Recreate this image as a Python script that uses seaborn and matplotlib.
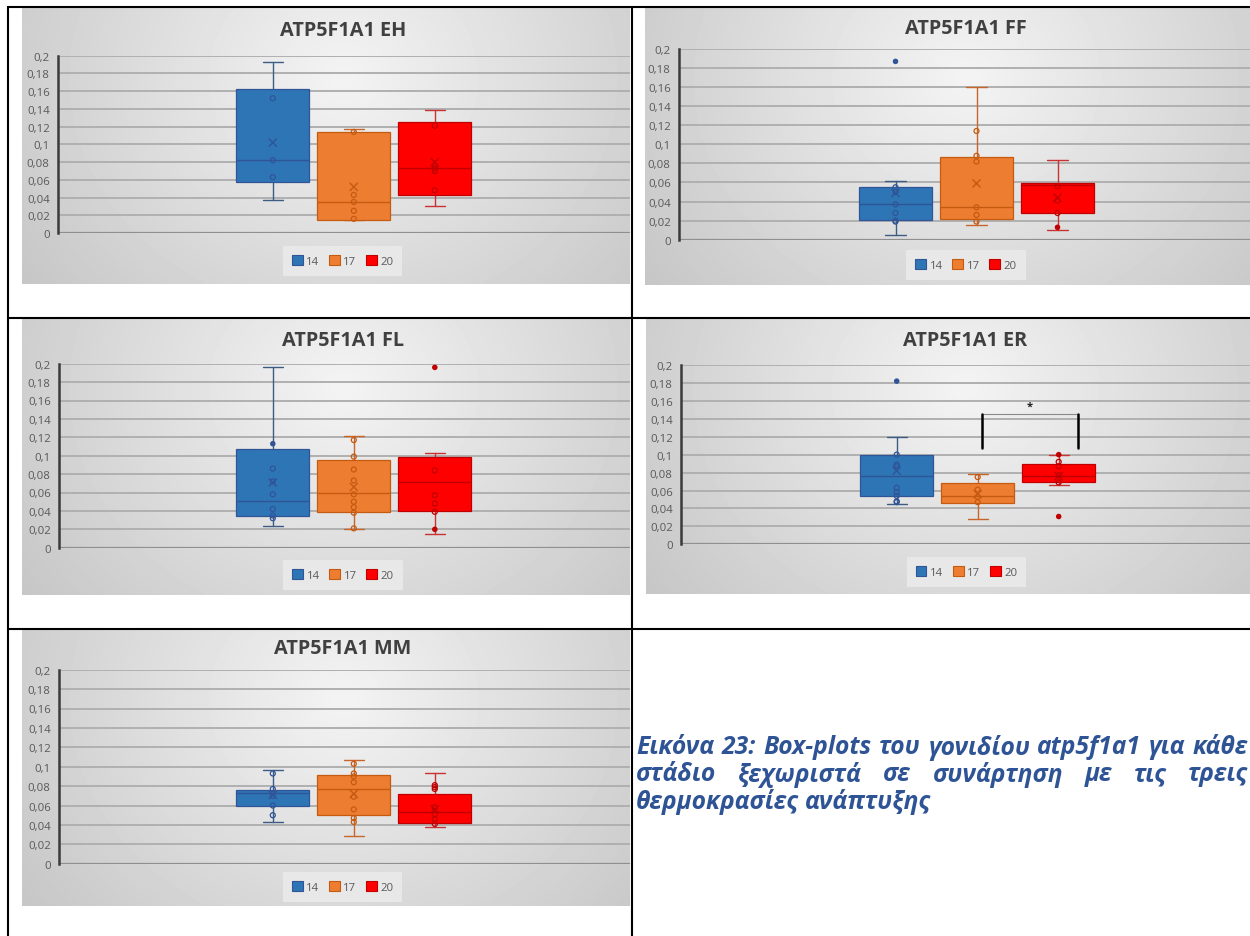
import numpy as np
import pandas as pd
import matplotlib
matplotlib.use("Agg")
import matplotlib.pyplot as plt
import seaborn as sns
from matplotlib.patches import Patch

# ---------------------------------------------------------------- data
GROUPS = ["14", "17", "20"]
Y_TICKS = [0, 0.02, 0.04, 0.06, 0.08, 0.10, 0.12, 0.14, 0.16, 0.18, 0.20]
Y_TICK_LABELS = ["0", "0,02", "0,04", "0,06", "0,08", "0,1", "0,12", "0,14",
                 "0,16", "0,18", "0,2"]

# EH
EH_LOW = [0.037, 0.015, 0.030]
EH_Q1 = [0.057, 0.015, 0.043]
EH_MED = [0.082, 0.035, 0.073]
EH_Q3 = [0.162, 0.114, 0.125]
EH_HIGH = [0.193, 0.117, 0.139]
EH_MEAN = [0.102, 0.052, 0.080]
EH_PTS = [[0.152, 0.082, 0.063],
          [0.114, 0.043, 0.035, 0.025, 0.016],
          [0.121, 0.076, 0.073, 0.070, 0.048]]
EH_OUT = [[], [], []]

# FF
FF_LOW = [0.005, 0.015, 0.010]
FF_Q1 = [0.021, 0.022, 0.028]
FF_MED = [0.037, 0.034, 0.057]
FF_Q3 = [0.055, 0.087, 0.059]
FF_HIGH = [0.062, 0.160, 0.084]
FF_MEAN = [0.049, 0.059, 0.044]
FF_PTS = [[0.055, 0.050, 0.037, 0.028, 0.020, 0.019],
          [0.114, 0.088, 0.082, 0.034, 0.026, 0.019],
          [0.056, 0.041, 0.028]]
FF_OUT = [[0.187], [], [0.013]]

# FL
FL_LOW = [0.024, 0.020, 0.015]
FL_Q1 = [0.035, 0.039, 0.040]
FL_MED = [0.051, 0.059, 0.071]
FL_Q3 = [0.107, 0.095, 0.099]
FL_HIGH = [0.196, 0.121, 0.103]
FL_MEAN = [0.071, 0.066, np.nan]
FL_PTS = [[0.086, 0.072, 0.058, 0.042, 0.035, 0.032],
          [0.117, 0.099, 0.085, 0.073, 0.058, 0.050, 0.044, 0.038, 0.021],
          [0.084, 0.057, 0.048, 0.039]]
FL_OUT = [[0.113], [], [0.196, 0.020]]

# ER
ER_LOW = [0.045, 0.028, 0.066]
ER_Q1 = [0.054, 0.046, 0.070]
ER_MED = [0.076, 0.054, 0.076]
ER_Q3 = [0.100, 0.068, 0.090]
ER_HIGH = [0.120, 0.078, 0.100]
ER_MEAN = [0.082, 0.056, 0.076]
ER_PTS = [[0.100, 0.089, 0.087, 0.063, 0.058, 0.054, 0.048, 0.047],
          [0.075, 0.061, 0.053, 0.047],
          [0.092, 0.087, 0.077, 0.069]]
ER_OUT = [[0.182], [], [0.100, 0.031]]
ER_SIG_TOP = 0.1457
ER_SIG_BOTTOM = 0.1074
ER_SIG_LABEL = "*"

# MM
MM_LOW = [0.043, 0.029, 0.038]
MM_Q1 = [0.060, 0.050, 0.042]
MM_MED = [0.073, 0.077, 0.053]
MM_Q3 = [0.076, 0.091, 0.072]
MM_HIGH = [0.097, 0.107, 0.093]
MM_MEAN = [0.071, 0.072, 0.056]
MM_PTS = [[0.093, 0.077, 0.070, 0.060, 0.050],
          [0.103, 0.093, 0.090, 0.084, 0.069, 0.056, 0.047, 0.043],
          [0.081, 0.079, 0.077, 0.058, 0.051, 0.046, 0.041]]
MM_OUT = [[], [], []]

CAPTION = ["Εικόνα 23: Box-plots του γονιδίου atp5f1a1 για κάθε",
           "στάδιο ξεχωριστά σε συνάρτηση με τις τρεις",
           "θερμοκρασίες ανάπτυξης"]

# ---------------------------------------------------------------- style
FACE = ["#2E75B6", "#ED7D31", "#FF0000"]
EDGE = ["#2F5597", "#C55A11", "#C00000"]
WHISK = ["#3D5C85", "#C8652A", "#C83232"]

sns.set_theme(style="white")
plt.rcParams["font.family"] = ["Open Sans", "DejaVu Sans"]

W, H = 1250, 937
fig = plt.figure(figsize=(W / 100, H / 100), dpi=100)
fig.patch.set_facecolor("white")


def frect(x0, y0, x1, y1):
    return [x0 / W, 1 - y1 / H, (x1 - x0) / W, (y1 - y0) / H]


# panel layout in page pixels
STEP = 81.0
PANELS = [
    dict(title="ATP5F1A1 EH", rect=(22, 9, 630, 285), axis_x=58, y_top=56.7,
         y_bot=234, c17=353.8, title_xy=(343, 31), legend_xy=(342.5, 262),
         low=EH_LOW, q1=EH_Q1, med=EH_MED, q3=EH_Q3, high=EH_HIGH,
         mean=EH_MEAN, pts=EH_PTS, out=EH_OUT),
    dict(title="ATP5F1A1 FF", rect=(645, 9, 1250, 286), axis_x=679, y_top=50,
         y_bot=240.7, c17=976.5, title_xy=(966, 28.5), legend_xy=(966, 266),
         low=FF_LOW, q1=FF_Q1, med=FF_MED, q3=FF_Q3, high=FF_HIGH,
         mean=FF_MEAN, pts=FF_PTS, out=FF_OUT),
    dict(title="ATP5F1A1 FL", rect=(22, 320, 630, 596), axis_x=59, y_top=364.7,
         y_bot=548.7, c17=353.8, title_xy=(343, 341), legend_xy=(343, 575.7),
         low=FL_LOW, q1=FL_Q1, med=FL_MED, q3=FL_Q3, high=FL_HIGH,
         mean=FL_MEAN, pts=FL_PTS, out=FL_OUT),
    dict(title="ATP5F1A1 ER", rect=(646, 320, 1250, 595), axis_x=681, y_top=366,
         y_bot=545.3, c17=977.7, title_xy=(965, 341), legend_xy=(966.4, 573.3),
         low=ER_LOW, q1=ER_Q1, med=ER_MED, q3=ER_Q3, high=ER_HIGH,
         mean=ER_MEAN, pts=ER_PTS, out=ER_OUT),
    dict(title="ATP5F1A1 MM", rect=(22, 631, 630, 907), axis_x=59, y_top=670.7,
         y_bot=864.7, c17=353.8, title_xy=(343, 649), legend_xy=(342.5, 888.3),
         low=MM_LOW, q1=MM_Q1, med=MM_MED, q3=MM_Q3, high=MM_HIGH,
         mean=MM_MEAN, pts=MM_PTS, out=MM_OUT),
]


def backdrop(w, h, cx, cy):
    yy, xx = np.mgrid[0:h, 0:w]
    d = np.sqrt(((xx - cx) / (0.55 * w)) ** 2 + ((yy - cy) / (1.05 * h)) ** 2)
    return np.clip(0.955 - 0.15 * d, 0, 1)


for p in PANELS:
    x0, y0, x1, y1 = p["rect"]
    pw, ph = int(x1 - x0), int(y1 - y0)

    bg = fig.add_axes(frect(x0, y0, x1, y1), zorder=1)
    bg.imshow(backdrop(pw, ph, p["title_xy"][0] - x0, 0.25 * ph), cmap="gray",
              vmin=0, vmax=1, aspect="auto", extent=[0, pw, ph, 0],
              interpolation="bilinear")
    bg.set_xlim(0, pw)
    bg.set_ylim(ph, 0)
    bg.axis("off")

    # title
    bg.text(p["title_xy"][0] - x0, p["title_xy"][1] - y0, p["title"],
            ha="center", va="center", fontsize=14.3, fontweight="bold",
            color="#404040")

    # plot area
    ax = fig.add_axes(frect(p["axis_x"], p["y_top"], x1, p["y_bot"]), zorder=2)
    ax.set_facecolor("none")
    left = (p["axis_x"] - p["c17"]) / STEP + 1
    right = (x1 - p["c17"]) / STEP + 1
    ax.set_xlim(left, right)
    ax.set_ylim(0, 0.2)

    ax.set_yticks(Y_TICKS)
    ax.set_yticklabels(Y_TICK_LABELS)
    ax.set_xticks([])
    ax.tick_params(axis="y", length=0, pad=6, labelsize=8.2, labelcolor="#595959")
    for t in Y_TICKS[1:]:
        ax.axhline(t, color="#b0b0b0", lw=1.4, zorder=0.5)
    ax.axhline(0, color="#8f8f8f", lw=1.6, zorder=0.6)
    for s in ["top", "right", "bottom"]:
        ax.spines[s].set_visible(False)
    ax.spines["left"].set_color("#3a3a3a")
    ax.spines["left"].set_linewidth(1.8)
    ax.grid(False)

    pos = [0, 1, 2]
    stats = [dict(med=p["med"][i], q1=p["q1"][i], q3=p["q3"][i],
                  whislo=p["low"][i], whishi=p["high"][i], fliers=[])
             for i in range(3)]
    bp = ax.bxp(stats, positions=pos, widths=0.9, capwidths=0.25,
                patch_artist=True, showfliers=False, manage_ticks=False)
    for i in range(3):
        bp["boxes"][i].set(facecolor=FACE[i], edgecolor=EDGE[i], linewidth=0.9,
                           zorder=2)
        for k in (2 * i, 2 * i + 1):
            bp["whiskers"][k].set(color=WHISK[i], linewidth=1.0, zorder=1.9)
            bp["caps"][k].set(color=WHISK[i], linewidth=1.0, zorder=1.9)
        bp["medians"][i].set(color=EDGE[i], linewidth=1.0, zorder=2.1)

    # individual samples (hollow) and isolated ones (solid)
    inner = pd.DataFrame([(pos[i], v, GROUPS[i]) for i in range(3)
                          for v in p["pts"][i]], columns=["pos", "value", "group"])
    sns.scatterplot(data=inner, x="pos", y="value", hue="group",
                    palette=dict(zip(GROUPS, EDGE)), s=13, linewidth=0.9,
                    legend=False, ax=ax, zorder=3)
    coll = ax.collections[-1]
    coll.set_edgecolors(coll.get_facecolors())
    coll.set_facecolor("none")

    solid = pd.DataFrame([(pos[i], v, GROUPS[i]) for i in range(3)
                          for v in p["out"][i]], columns=["pos", "value", "group"])
    if len(solid):
        sns.scatterplot(data=solid, x="pos", y="value", hue="group",
                        palette=dict(zip(GROUPS, EDGE)), s=16, linewidth=0,
                        legend=False, ax=ax, zorder=3)

    ax.scatter(pos, p["mean"], marker="x", s=34, c=EDGE, linewidths=1.0,
               zorder=4)
    ax.set_xlabel("")
    ax.set_ylabel("")

    if p["title"].endswith("ER"):
        xa, xb = 1.057, 2.24
        ax.plot([xa, xb], [ER_SIG_TOP, ER_SIG_TOP], color="#8a8a8a", lw=0.8,
                zorder=4)
        ax.plot([xa, xa], [ER_SIG_BOTTOM, ER_SIG_TOP], color="black", lw=1.8,
                zorder=4)
        ax.plot([xb, xb], [ER_SIG_BOTTOM, ER_SIG_TOP], color="black", lw=1.8,
                zorder=4)
        ax.text(1.646, 0.1535, ER_SIG_LABEL, ha="center", va="center",
                fontsize=8, fontweight="bold", color="#202020", zorder=4)

    handles = [Patch(facecolor=FACE[i], edgecolor=EDGE[i], linewidth=0.8,
                     label=GROUPS[i]) for i in range(3)]
    leg = bg.legend(handles=handles, loc="center", ncol=3,
                    bbox_to_anchor=(p["legend_xy"][0] / W, 1 - p["legend_xy"][1] / H),
                    bbox_transform=fig.transFigure, fontsize=8.2,
                    handlelength=0.95, handleheight=0.95, handletextpad=0.3,
                    columnspacing=0.85, borderpad=0.8, frameon=True,
                    fancybox=False)
    leg.get_frame().set_facecolor("#ececec")
    leg.get_frame().set_edgecolor("none")
    for t in leg.get_texts():
        t.set_color("#595959")

# ---------------------------------------------------------------- page
page = fig.add_axes([0, 0, 1, 1], zorder=5)
page.set_facecolor("none")
page.set_xlim(0, W)
page.set_ylim(H, 0)
page.axis("off")

rule = dict(color="black", lw=1.5, solid_capstyle="butt")
page.plot([8, 8], [7, H], **rule)
page.plot([631.5, 631.5], [7, H], **rule)
page.plot([8, W], [7.5, 7.5], **rule)
page.plot([8, W], [318.5, 318.5], **rule)
page.plot([8, W], [629.5, 629.5], **rule)

# justified caption; font size chosen so the first line fills the column
renderer = fig.canvas.get_renderer()
x_left, x_right = 636, 1248
cap_kw = dict(fontweight="bold", fontstyle="italic", color="#2F5496",
              va="center", ha="left",
              family=["Open Sans", "Noto Sans", "DejaVu Sans"])


def word_widths(words, size):
    ts = [page.text(0, 0, w, fontsize=size, **cap_kw) for w in words]
    ws = [t.get_window_extent(renderer).width for t in ts]
    for t in ts:
        t.remove()
    return ws


def space_width(size):
    a = page.text(0, 0, "a a", fontsize=size, **cap_kw)
    b = page.text(0, 0, "aa", fontsize=size, **cap_kw)
    sw = a.get_window_extent(renderer).width - b.get_window_extent(renderer).width
    a.remove()
    b.remove()
    return sw


first = CAPTION[0].split()
base = 13.0
natural = sum(word_widths(first, base)) + (len(first) - 1) * space_width(base)
cap_size = base * (x_right - x_left) / natural * 0.985

for li, line in enumerate(CAPTION):
    words = line.split()
    y = 748 + 27 * li
    widths = word_widths(words, cap_size)
    if li < len(CAPTION) - 1:
        gap = (x_right - x_left - sum(widths)) / (len(words) - 1)
    else:
        gap = space_width(cap_size)
    x = x_left
    for w, wd in zip(words, widths):
        page.text(x, y, w, fontsize=cap_size, **cap_kw)
        x += wd + gap

fig.savefig("out.png", dpi=100, facecolor="white")
